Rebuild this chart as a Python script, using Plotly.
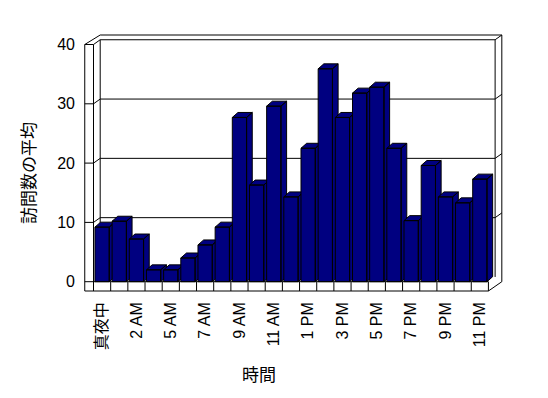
import plotly.graph_objects as go

# ---- data ----
categories = ["真夜中", "1 AM", "2 AM", "3 AM", "5 AM", "6 AM", "7 AM", "8 AM",
              "9 AM", "10 AM", "11 AM", "正午", "1 PM", "2 PM", "3 PM", "4 PM",
              "5 PM", "6 PM", "7 PM", "8 PM", "9 PM", "10 PM", "11 PM"]
values = [9.2, 10.2, 7.2, 2.0, 2.0, 4.0, 6.2, 9.2, 27.7, 16.3, 29.6, 14.3,
          22.5, 35.9, 27.7, 31.8, 32.8, 22.5, 10.3, 19.6, 14.3, 13.3, 17.3]
tick_idx = list(range(0, len(categories), 2))
tick_labels = [categories[i] for i in tick_idx]
y_ticks = [0, 10, 20, 30, 40]

x_title = "時間"
y_title = "訪問数の平均"

# ---- style / geometry (in axis units) ----
BAR = "#000080"
HALF = 0.416          # half width of bar front face
BDX, BDY = 0.33, 0.84  # bar depth offset
WDX, WDY = 0.39, 0.80  # wall depth offset
X0, X1 = -0.5, len(categories) - 0.5
XL = X0 - 0.51
YTOP = 40
FLOOR = -1.57
FONT = "Liberation Sans, Arial, Noto Sans CJK JP"

fig = go.Figure()

# bars: front, side and top faces, drawn left to right
for i, v in enumerate(values):
    l, r = i - HALF, i + HALF
    xs = [l, r, r, l, l, None,
          r, r + BDX, r + BDX, r, r, None,
          l, l + BDX, r + BDX, r, l]
    ys = [0, 0, v, v, 0, None,
          0, BDY, v + BDY, v, 0, None,
          v, v + BDY, v + BDY, v, v]
    fig.add_trace(go.Scatter(x=xs, y=ys, mode="lines", fill="toself",
                             fillcolor=BAR, line=dict(color="black", width=1),
                             hoverinfo="skip", showlegend=False))

shapes = []


def seg(pts, layer="below"):
    path = "M " + " L ".join(f"{x},{y}" for x, y in pts)
    shapes.append(dict(type="path", path=path, xref="x", yref="y",
                       line=dict(color="black", width=1), layer=layer))


# walls
seg([(XL, FLOOR), (XL, YTOP), (X0 + WDX, YTOP + 2 * WDY), (X1 + 2 * WDX, YTOP + 2 * WDY),
     (X1 + 2 * WDX, 0)])
seg([(XL, YTOP), (X0, YTOP), (X0 + WDX, YTOP + WDY), (X1 + WDX, YTOP + WDY),
     (X1 + 2 * WDX, YTOP + 2 * WDY)])
seg([(X0, YTOP), (X0, FLOOR)])
seg([(X0 + WDX, YTOP + WDY), (X0 + WDX, WDY)])
seg([(X1 + WDX, YTOP + WDY), (X1 + WDX, WDY)])
for t in y_ticks[1:-1]:
    seg([(XL, t), (X0, t), (X0 + WDX, t + WDY), (X1 + WDX, t + WDY),
         (X1 + 2 * WDX, t + 2 * WDY)])
seg([(XL, 0), (X0, 0)])
# floor
seg([(X0, 0), (X1, 0), (X1, FLOOR), (X1 + 2 * WDX, 0)], layer="above")
seg([(XL, FLOOR), (X1, FLOOR)], layer="above")
for k in range(1, len(categories)):
    seg([(X0 + k, 0), (X0 + k, FLOOR)], layer="above")

fig.update_layout(
    width=548, height=398,
    margin=dict(l=76, r=53, t=25, b=114),
    paper_bgcolor="white", plot_bgcolor="white",
    showlegend=False,
    shapes=shapes,
    font=dict(family=FONT, size=16, color="black"),
    xaxis=dict(range=[-1.0536, 23.349], showgrid=False, zeroline=False,
               showline=False, ticks="", tickmode="array", tickvals=tick_idx,
               ticktext=tick_labels, tickangle=-90, ticklabelstandoff=6,
               tickfont=dict(size=16)),
    yaxis=dict(range=[-1.737, 41.939], showgrid=False, zeroline=False,
               showline=False, ticks="", tickmode="array", tickvals=y_ticks,
               ticklabelstandoff=8, tickfont=dict(size=16)),
    annotations=[
        dict(text=y_title, xref="paper", yref="paper", x=-0.1289, y=0.4595,
             textangle=-90, showarrow=False, font=dict(size=17),
             xanchor="center", yanchor="middle"),
        dict(text=x_title, xref="paper", yref="paper", x=0.4177, y=-0.3243,
             showarrow=False, font=dict(size=17),
             xanchor="center", yanchor="middle"),
    ],
)

fig.write_html("out.html")
